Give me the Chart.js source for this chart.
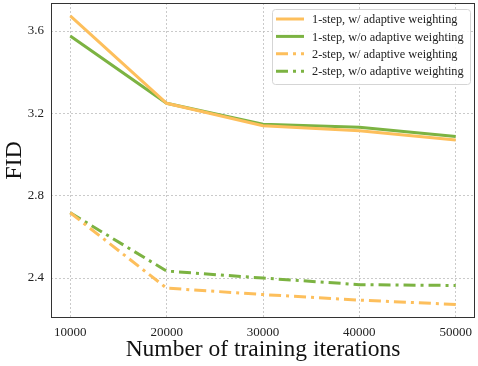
<!DOCTYPE html>
<html>
<head>
<meta charset="utf-8">
<script src="https://cdn.jsdelivr.net/npm/chart.js@4"></script>
<style>
  html, body { margin: 0; padding: 0; background: #fff; }
  #wrap { width: 478px; height: 366px; }
</style>
</head>
<body>
<div id="wrap"><canvas id="fidChart" width="478" height="366"></canvas></div>
<script>
  // iterations on x, FID on y
  var iterations = [10000, 20000, 30000, 40000, 50000];
  var oneStepW = [3.673, 3.249, 3.140, 3.115, 3.070];
  var oneStepWo = [3.576, 3.249, 3.147, 3.132, 3.088];
  var twoStepW = [2.717, 2.351, 2.320, 2.293, 2.272];
  var twoStepWo = [2.717, 2.434, 2.400, 2.368, 2.364];
  var seriesLabels = [
    "1-step, w/ adaptive weighting",
    "1-step, w/o adaptive weighting",
    "2-step, w/ adaptive weighting",
    "2-step, w/o adaptive weighting",
  ];
  var xTicks = [10000, 20000, 30000, 40000, 50000];
  var yTicks = [2.4, 2.8, 3.2, 3.6];

  var orange = "#fdbf5c";
  var green = "#7cb342";
  var dashDot = [12, 5, 3, 5];
  var serif = "'Liberation Serif', 'DejaVu Serif', serif";

  function pts(vals) {
    return iterations.map(function (x, i) {
      return { x: x, y: vals[i] };
    });
  }

  var seriesData = [oneStepW, oneStepWo, twoStepW, twoStepWo];
  var seriesColors = [orange, green, orange, green];
  var seriesDash = [[], [], dashDot, dashDot];

  var datasets = seriesData.map(function (vals, i) {
    return {
      label: seriesLabels[i],
      data: pts(vals),
      borderColor: seriesColors[i],
      backgroundColor: seriesColors[i],
      borderWidth: 3,
      borderDash: seriesDash[i],
      pointRadius: 0,
      fill: false,
      tension: 0,
    };
  });

  // box around the plot + legend drawn inside the plot area
  var framePlugin = {
    id: "frame",
    afterDatasetsDraw: function (chart) {
      var ctx = chart.ctx;
      var a = chart.chartArea;
      ctx.save();
      ctx.strokeStyle = "#333";
      ctx.lineWidth = 1;
      ctx.strokeRect(a.left + 0.5, a.top + 0.5, a.right - a.left - 1, a.bottom - a.top - 1);

      // legend
      var bx = 272, by = 9, bw = 198, bh = 75, r = 3;
      ctx.fillStyle = "rgba(255,255,255,0.85)";
      ctx.strokeStyle = "#d5d5d5";
      ctx.beginPath();
      ctx.roundRect(bx + 0.5, by + 0.5, bw, bh, r);
      ctx.fill();
      ctx.stroke();
      ctx.font = "12.3px " + serif;
      ctx.textBaseline = "middle";
      ctx.textAlign = "left";
      for (var i = 0; i < seriesLabels.length; i++) {
        var y = 19 + i * 17.4;
        ctx.strokeStyle = seriesColors[i];
        ctx.lineWidth = 3;
        ctx.setLineDash(seriesDash[i]);
        ctx.beginPath();
        ctx.moveTo(276, y);
        ctx.lineTo(304, y);
        ctx.stroke();
        ctx.setLineDash([]);
        ctx.fillStyle = "#222";
        ctx.fillText(seriesLabels[i], 312, y + 1);
      }
      ctx.restore();
    },
  };

  new Chart(document.getElementById("fidChart").getContext("2d"), {
    type: "line",
    data: { datasets: datasets },
    plugins: [framePlugin],
    options: {
      responsive: false,
      animation: false,
      layout: { padding: { top: 3, right: 3, left: 0, bottom: 0 } },
      plugins: {
        legend: { display: false },
        tooltip: { enabled: false },
      },
      scales: {
        x: {
          type: "linear",
          min: 8000,
          max: 52000,
          afterBuildTicks: function (axis) {
            axis.ticks = xTicks.map(function (v) { return { value: v }; });
          },
          afterFit: function (axis) {
            axis.height = 48;
            axis.paddingLeft = 0;
            axis.paddingRight = 0;
          },
          grid: {
            color: "#bdbdbd",
            lineWidth: 0.8,
            drawTicks: false,
          },
          border: { display: false, dash: [2, 2] },
          ticks: {
            padding: 7,
            color: "#222",
            font: { family: serif, size: 13 },
            callback: function (v) { return String(v); },
            maxRotation: 0,
          },
          title: {
            display: true,
            text: "Number of training iterations",
            color: "#111",
            font: { family: serif, size: 23.5 },
            padding: { top: 0, bottom: 2 },
          },
        },
        y: {
          type: "linear",
          min: 2.206,
          max: 3.736,
          afterBuildTicks: function (axis) {
            axis.ticks = yTicks.map(function (v) { return { value: v }; });
          },
          afterFit: function (axis) {
            axis.width = 51;
            axis.paddingTop = 0;
            axis.paddingBottom = 0;
          },
          grid: {
            color: "#bdbdbd",
            lineWidth: 0.8,
            drawTicks: false,
          },
          border: { display: false, dash: [2, 2] },
          ticks: {
            padding: 7,
            color: "#222",
            font: { family: serif, size: 13 },
            callback: function (v) { return v.toFixed(1); },
          },
          title: {
            display: true,
            text: "FID",
            color: "#111",
            font: { family: serif, size: 24 },
            padding: { top: 0, bottom: 0 },
          },
        },
      },
    },
  });
</script>
</body>
</html>
